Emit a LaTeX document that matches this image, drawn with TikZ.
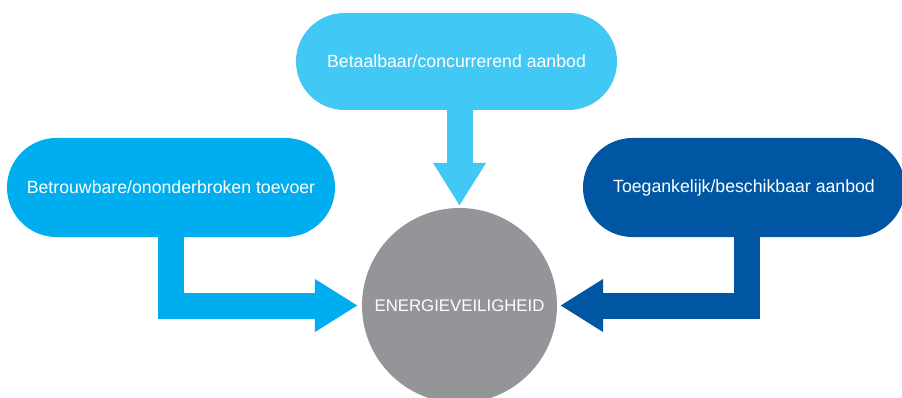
\documentclass[tikz,border=0pt]{standalone}
\usepackage{fontspec}
\setmainfont{Liberation Sans}
\usetikzlibrary{shapes.misc,arrows.meta}
\definecolor{cLeft}{HTML}{00AEEF}
\definecolor{cTop}{HTML}{41C8F5}
\definecolor{cRight}{HTML}{0056A2}
\definecolor{cGray}{HTML}{939598}
\begin{document}
\begin{tikzpicture}[x=1pt,y=-1pt,
  pill/.style={rounded rectangle, inner sep=0pt, text=white, minimum height=99pt,
    font=\fontsize{17.7}{20}\selectfont},
  hub/.style={circle, fill=cGray, inner sep=0pt, minimum size=195pt, text=white,
    font=\fontsize{16.8}{20}\selectfont},
  conn/.style={line width=26pt, line join=miter,
    -{Triangle[width=50pt,length=43pt]}}]
\clip (0,0) rectangle (902,398);
\node[pill, fill=cTop, minimum width=321pt, minimum height=97pt] (tp) at (456.5,61.5) {Betaalbaar/concurrerend aanbod};
\node[pill, fill=cLeft, minimum width=328pt] (lp) at (171,187.5) {Betrouwbare/ononderbroken toevoer};
\node[pill, fill=cRight, minimum width=322pt] (rp) at (744,187.5) {Toegankelijk/beschikbaar aanbod};
\node[hub] (c) at (459.5,305.5) {ENERGIEVEILIGHEID};
\draw[conn, cTop, shorten >=2pt] ([yshift=1pt]tp.south -| c.north) -- (c.north);
\draw[conn, cLeft, shorten >=4pt] ([yshift=1pt]lp.south) |- (c.west);
\draw[conn, cRight, shorten >=3pt] ([xshift=3pt,yshift=1pt]rp.south) |- (c.east);
\end{tikzpicture}
\end{document}
